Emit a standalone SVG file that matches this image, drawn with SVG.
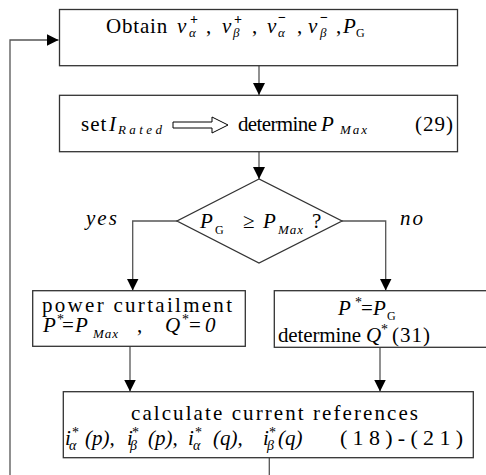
<svg xmlns="http://www.w3.org/2000/svg" width="486" height="475" viewBox="0 0 486 475">
<defs>
<marker id="ah" viewBox="0 0 12 12" refX="12" refY="6" markerWidth="12" markerHeight="12" markerUnits="userSpaceOnUse" orient="auto">
<path d="M0,0 L12,6 L0,12 z" fill="#000"/>
</marker>
</defs>
<rect width="486" height="475" fill="#fff"/>
<g id="connectors" fill="none" stroke="#555" stroke-width="1.3">
<line x1="259" y1="66" x2="259" y2="95" marker-end="url(#ah)"/>
<line x1="259" y1="152" x2="259" y2="179" marker-end="url(#ah)"/>
<polyline points="177,221 132.7,221 132.7,290.5" marker-end="url(#ah)"/>
<polyline points="342,221 385.7,221 385.7,290.5" marker-end="url(#ah)"/>
<line x1="130" y1="346" x2="130" y2="391.5" marker-end="url(#ah)"/>
<line x1="380" y1="347" x2="380" y2="391.5" marker-end="url(#ah)"/>
<line x1="269.3" y1="457.7" x2="269.3" y2="476"/>
<polyline points="10,476 10,40 58.5,40" marker-end="url(#ah)"/>
</g>
<g id="obtain">
<rect x="59.5" y="9.5" width="398" height="56.2" fill="#fff" stroke="#333" stroke-width="1.3"/>
<text font-family="Liberation Serif, serif" font-size="21" x="106" y="33" letter-spacing="0.8">Obtain</text>
<text font-family="Liberation Serif, serif" font-size="21" font-style="italic" x="177" y="33">v</text>
<text font-family="Liberation Serif, serif" font-size="13" font-style="italic" x="189" y="37">&#945;</text>
<text font-family="Liberation Serif, serif" font-size="14" font-weight="bold" x="190" y="24">+</text>
<text font-family="Liberation Serif, serif" font-size="21" x="206" y="33">,</text>
<text font-family="Liberation Serif, serif" font-size="21" font-style="italic" x="222" y="33">v</text>
<text font-family="Liberation Serif, serif" font-size="13" font-style="italic" x="233" y="37">&#946;</text>
<text font-family="Liberation Serif, serif" font-size="14" font-weight="bold" x="234" y="24">+</text>
<text font-family="Liberation Serif, serif" font-size="21" x="252" y="33">,</text>
<text font-family="Liberation Serif, serif" font-size="21" font-style="italic" x="267" y="33">v</text>
<text font-family="Liberation Serif, serif" font-size="13" font-style="italic" x="278" y="37">&#945;</text>
<text font-family="Liberation Serif, serif" font-size="14" font-weight="bold" x="278" y="22">&#8722;</text>
<text font-family="Liberation Serif, serif" font-size="21" x="297" y="33">,</text>
<text font-family="Liberation Serif, serif" font-size="21" font-style="italic" x="308" y="33">v</text>
<text font-family="Liberation Serif, serif" font-size="13" font-style="italic" x="320" y="37">&#946;</text>
<text font-family="Liberation Serif, serif" font-size="14" font-weight="bold" x="320" y="22">&#8722;</text>
<text font-family="Liberation Serif, serif" font-size="21" x="336" y="33">,</text>
<text font-family="Liberation Serif, serif" font-size="21" font-style="italic" x="343" y="33">P</text>
<text font-family="Liberation Serif, serif" font-size="12" x="356" y="37">G</text>
</g>
<g id="setrated">
<rect x="59.5" y="95.3" width="398" height="56.4" fill="#fff" stroke="#333" stroke-width="1.3"/>
<text font-family="Liberation Serif, serif" font-size="21" x="81" y="131" letter-spacing="1">set</text>
<text font-family="Liberation Serif, serif" font-size="21" font-style="italic" x="109" y="131">I</text>
<text font-family="Liberation Serif, serif" font-size="13" font-style="italic" x="118" y="134" textLength="44" lengthAdjust="spacing">Rated</text>
<polygon points="173,122 212,122 212,117 228,125 212,133 212,128 173,128" fill="#fff" stroke="#000" stroke-width="1"/>
<text font-family="Liberation Serif, serif" font-size="21" x="238" y="131" textLength="79" lengthAdjust="spacing">determine</text>
<text font-family="Liberation Serif, serif" font-size="21" font-style="italic" x="321" y="131">P</text>
<text font-family="Liberation Serif, serif" font-size="13" font-style="italic" x="340" y="134" letter-spacing="2">Max</text>
<text font-family="Liberation Serif, serif" font-size="21" x="415" y="131" letter-spacing="1">(29)</text>
</g>
<g id="decision">
<polygon points="259,179 177,221 259,263 342,221" fill="#fff" stroke="#333" stroke-width="1.3"/>
<text font-family="Liberation Serif, serif" font-size="21" font-style="italic" x="200" y="228">P</text>
<text font-family="Liberation Serif, serif" font-size="12" x="215" y="234">G</text>
<text font-family="Liberation Serif, serif" font-size="21" x="243" y="228">&#8805;</text>
<text font-family="Liberation Serif, serif" font-size="21" font-style="italic" x="263" y="228">P</text>
<text font-family="Liberation Serif, serif" font-size="13" font-style="italic" x="278" y="234" letter-spacing="1">Max</text>
<text font-family="Liberation Serif, serif" font-size="21" x="312" y="228">?</text>
</g>
<g id="labels">
<text font-family="Liberation Serif, serif" font-size="21" font-style="italic" x="86" y="225" letter-spacing="2">yes</text>
<text font-family="Liberation Serif, serif" font-size="21" font-style="italic" x="400" y="225" letter-spacing="2">no</text>
</g>
<g id="curtail">
<rect x="32.7" y="290.7" width="212.6" height="55.6" fill="#fff" stroke="#333" stroke-width="1.3"/>
<text font-family="Liberation Serif, serif" font-size="21" x="42" y="312" textLength="190" lengthAdjust="spacing">power curtailment</text>
<text font-family="Liberation Serif, serif" font-size="21" font-style="italic" x="43" y="332">P</text>
<text font-family="Liberation Serif, serif" font-size="14" x="57" y="324">*</text>
<text font-family="Liberation Serif, serif" font-size="21" x="62" y="332">=</text>
<text font-family="Liberation Serif, serif" font-size="21" font-style="italic" x="75" y="332">P</text>
<text font-family="Liberation Serif, serif" font-size="13" font-style="italic" x="93" y="338" letter-spacing="1">Max</text>
<text font-family="Liberation Serif, serif" font-size="21" x="137" y="332">,</text>
<text font-family="Liberation Serif, serif" font-size="21" font-style="italic" x="165" y="332">Q</text>
<text font-family="Liberation Serif, serif" font-size="14" x="182" y="324">*</text>
<text font-family="Liberation Serif, serif" font-size="21" x="189" y="332">=</text>
<text font-family="Liberation Serif, serif" font-size="21" font-style="italic" x="205" y="332">0</text>
</g>
<g id="determineQ">
<rect x="274.3" y="290.7" width="215" height="56.6" fill="#fff" stroke="#333" stroke-width="1.3"/>
<text font-family="Liberation Serif, serif" font-size="21" font-style="italic" x="338" y="315">P</text>
<text font-family="Liberation Serif, serif" font-size="14" x="355" y="307">*</text>
<text font-family="Liberation Serif, serif" font-size="21" x="361" y="315">=</text>
<text font-family="Liberation Serif, serif" font-size="21" font-style="italic" x="373" y="315">P</text>
<text font-family="Liberation Serif, serif" font-size="12" x="387" y="320">G</text>
<text font-family="Liberation Serif, serif" font-size="21" x="278" y="342" textLength="83" lengthAdjust="spacing">determine</text>
<text font-family="Liberation Serif, serif" font-size="21" font-style="italic" x="366" y="342">Q</text>
<text font-family="Liberation Serif, serif" font-size="14" x="381" y="334">*</text>
<text font-family="Liberation Serif, serif" font-size="21" x="392" y="342" letter-spacing="1">(31)</text>
</g>
<g id="calc">
<rect x="63.3" y="391.7" width="410" height="66" fill="#fff" stroke="#333" stroke-width="1.3"/>
<text font-family="Liberation Serif, serif" font-size="21" x="131" y="420" textLength="287" lengthAdjust="spacing">calculate current references</text>
<text font-family="Liberation Serif, serif" font-size="21" font-style="italic" x="65" y="445">i</text>
<text font-family="Liberation Serif, serif" font-size="14" font-style="italic" x="69" y="450">&#945;</text>
<text font-family="Liberation Serif, serif" font-size="14" x="72" y="437">*</text>
<text font-family="Liberation Serif, serif" font-size="21" font-style="italic" x="85" y="445">(p),</text>
<text font-family="Liberation Serif, serif" font-size="21" font-style="italic" x="127" y="445">i</text>
<text font-family="Liberation Serif, serif" font-size="14" font-style="italic" x="130" y="450">&#946;</text>
<text font-family="Liberation Serif, serif" font-size="14" x="132" y="437">*</text>
<text font-family="Liberation Serif, serif" font-size="21" font-style="italic" x="148" y="445">(p),</text>
<text font-family="Liberation Serif, serif" font-size="21" font-style="italic" x="188" y="445">i</text>
<text font-family="Liberation Serif, serif" font-size="14" font-style="italic" x="193" y="450">&#945;</text>
<text font-family="Liberation Serif, serif" font-size="14" x="195" y="437">*</text>
<text font-family="Liberation Serif, serif" font-size="21" font-style="italic" x="213" y="445">(q),</text>
<text font-family="Liberation Serif, serif" font-size="21" font-style="italic" x="263" y="445">i</text>
<text font-family="Liberation Serif, serif" font-size="14" font-style="italic" x="267" y="450">&#946;</text>
<text font-family="Liberation Serif, serif" font-size="14" x="269" y="437">*</text>
<text font-family="Liberation Serif, serif" font-size="21" font-style="italic" x="278" y="445">(q)</text>
<text font-family="Liberation Serif, serif" font-size="22" x="340" y="445" textLength="123" lengthAdjust="spacing">(18)-(21)</text>
</g>
</svg>
